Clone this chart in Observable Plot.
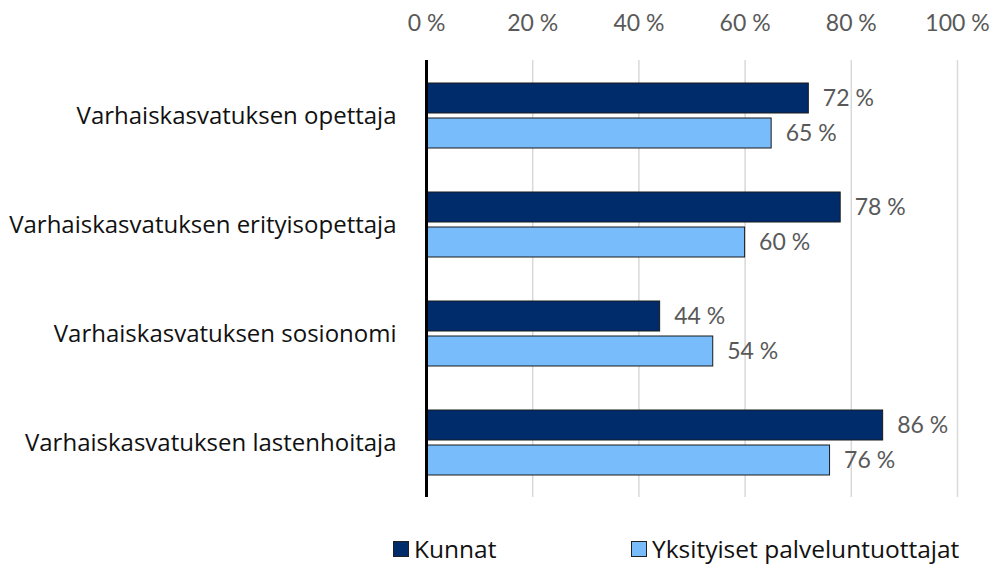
<!DOCTYPE html>
<html>
<head>
<meta charset="utf-8">
<script src="https://cdn.jsdelivr.net/npm/d3@7"></script>
<script src="https://cdn.jsdelivr.net/npm/@observablehq/plot@0.6"></script>
<style>
  body { margin: 0; background: #fff; font-family: "Open Sans", Lato, sans-serif; }
  #wrap { position: relative; width: 995px; height: 564px; overflow: hidden; }
  .leg { position: absolute; top: 531px; display: flex; align-items: center; font-size: 24.5px; line-height: 36px; color: #111; font-family: "Open Sans", sans-serif; }
  .sw { width: 16px; height: 16px; border: 1px solid #222; margin-right: 5px; box-sizing: border-box; }
</style>
</head>
<body>
<div id="wrap"></div>
<script>
const categories = [
  "Varhaiskasvatuksen opettaja",
  "Varhaiskasvatuksen erityisopettaja",
  "Varhaiskasvatuksen sosionomi",
  "Varhaiskasvatuksen lastenhoitaja"
];
const seriesNames = ["Kunnat", "Yksityiset palveluntuottajat"];
const kunnat = [72, 78, 44, 86];
const yksityiset = [65, 60, 54, 76];
const xTicks = [0, 20, 40, 60, 80, 100];
const colors = ["#002c6c", "#78bcfc"];

const dataK = categories.map((c, i) => ({category: c, series: seriesNames[0], value: kunnat[i]}));
const dataY = categories.map((c, i) => ({category: c, series: seriesNames[1], value: yksityiset[i]}));

const fmt = v => `${v} %`;

const chart = Plot.plot({
  width: 995,
  height: 500,
  marginLeft: 426,
  marginRight: 38,
  marginTop: 60,
  marginBottom: 3,
  style: {fontFamily: "Lato, 'Open Sans', sans-serif", background: "#fff"},
  x: {domain: [0, 100], ticks: xTicks, label: null},
  y: {domain: categories, padding: 0, label: null},
  marks: [
    Plot.gridX(xTicks.slice(1), {stroke: "#d9d9d9", strokeOpacity: 1, strokeWidth: 1.5}),
    Plot.axisX(xTicks, {anchor: "top", tickSize: 0, tickPadding: 30, tickFormat: fmt, fontSize: 23, fill: "#595959", label: null}),
    Plot.axisY({tickSize: 0, tickPadding: 30, fontSize: 24, fill: "#111", label: null, fontFamily: "'Open Sans', sans-serif"}),
    Plot.barX(dataK, {x: "value", y: "category", fill: colors[0], stroke: "#1a1a1a", strokeWidth: 1, insetTop: 22, insetBottom: 57}),
    Plot.barX(dataY, {x: "value", y: "category", fill: colors[1], stroke: "#1a1a1a", strokeWidth: 1, insetTop: 57, insetBottom: 22}),
    Plot.text(dataK, {x: "value", y: "category", text: d => fmt(d.value), dx: 14, dy: -17, textAnchor: "start", fontSize: 23, fill: "#595959"}),
    Plot.text(dataY, {x: "value", y: "category", text: d => fmt(d.value), dx: 14, dy: 18, textAnchor: "start", fontSize: 23, fill: "#595959"}),
    Plot.ruleX([0], {stroke: "#000", strokeWidth: 3})
  ]
});

const wrap = document.getElementById("wrap");
wrap.appendChild(chart);
const legLefts = [393, 631];
seriesNames.forEach((name, i) => {
  const item = document.createElement("div");
  item.className = "leg";
  item.style.left = legLefts[i] + "px";
  const sw = document.createElement("span");
  sw.className = "sw";
  sw.style.background = colors[i];
  const t = document.createElement("span");
  t.textContent = name;
  item.appendChild(sw);
  item.appendChild(t);
  wrap.appendChild(item);
});
</script>
</body>
</html>
